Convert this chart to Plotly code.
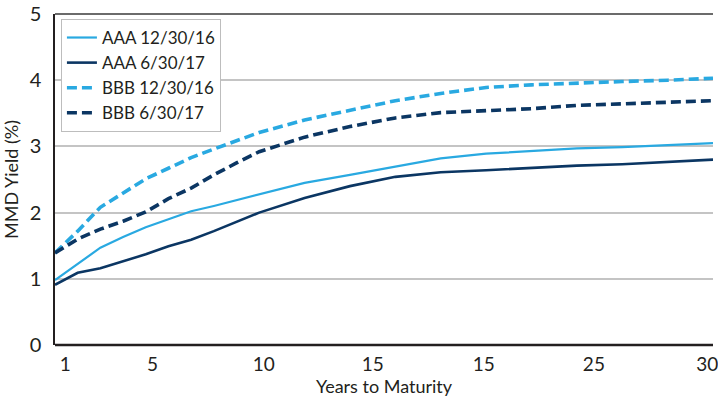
import plotly.graph_objects as go

# ---- data ----
years = [1, 2, 3, 4, 5, 6, 7, 8, 9, 10, 12, 14, 16, 18, 20, 22, 24, 26, 28, 30]
aaa_1216 = [0.98, 1.23, 1.47, 1.63, 1.78, 1.90, 2.02, 2.10, 2.19, 2.27, 2.45, 2.57, 2.70, 2.82, 2.89, 2.93, 2.97, 2.99, 3.02, 3.05]
aaa_0617 = [0.91, 1.09, 1.16, 1.26, 1.37, 1.49, 1.59, 1.72, 1.86, 2.00, 2.22, 2.40, 2.54, 2.61, 2.64, 2.68, 2.71, 2.73, 2.77, 2.80]
bbb_1216 = [1.39, 1.72, 2.08, 2.30, 2.51, 2.67, 2.83, 2.96, 3.09, 3.21, 3.40, 3.55, 3.69, 3.80, 3.89, 3.93, 3.96, 3.98, 4.00, 4.03]
bbb_0617 = [1.39, 1.60, 1.75, 1.87, 2.01, 2.21, 2.37, 2.57, 2.75, 2.92, 3.14, 3.30, 3.43, 3.51, 3.54, 3.57, 3.62, 3.64, 3.67, 3.69]
series_names = ["AAA 12/30/16", "AAA 6/30/17", "BBB 12/30/16", "BBB 6/30/17"]
x_tick_labels = ["1", "5", "10", "15", "15", "25", "30"]
y_tick_labels = ["0", "1", "2", "3", "4", "5"]

# ---- styling ----
LIGHT = "#29a9e1"
DARK = "#0b3663"
FONT = "Lato"

fig = go.Figure()
styles = [
    dict(color=LIGHT, width=2.2, dash="solid"),
    dict(color=DARK, width=2.6, dash="solid"),
    dict(color=LIGHT, width=3.6, dash="10px,5px"),
    dict(color=DARK, width=3.6, dash="10px,5px"),
]
for name, ys, st in zip(series_names, [aaa_1216, aaa_0617, bbb_1216, bbb_0617], styles):
    fig.add_trace(go.Scatter(x=years, y=ys, mode="lines", name=name, line=st))

tick_positions = [1.45, 5.3, 10.2, 15.0, 19.9, 24.75, 29.75]

fig.update_layout(
    width=718, height=400,
    margin=dict(l=55, r=0, t=14, b=55),
    paper_bgcolor="white", plot_bgcolor="white",
    font=dict(family=FONT, size=18, color="#231f20"),
    showlegend=True,
    legend=dict(
        x=0.009, y=0.985, xanchor="left", yanchor="top",
        bgcolor="white", bordercolor="#bdbdbd", borderwidth=1,
        font=dict(family=FONT, size=17, color="#231f20"),
        tracegroupgap=0, itemwidth=30,
    ),
    xaxis=dict(
        range=[1, 30], showgrid=False, zeroline=False,
        tickmode="array", tickvals=tick_positions, ticktext=x_tick_labels,
        ticks="outside", ticklen=2, tickcolor="rgba(0,0,0,0)",
        tickfont=dict(size=19), ticklabeloverflow="allow",
        title=dict(text="Years to Maturity", font=dict(size=18), standoff=6),
    ),
    yaxis=dict(
        range=[0, 5], showgrid=True, gridcolor="#c4c4c4", gridwidth=2,
        zeroline=False, showline=True, linecolor="#231f20", linewidth=1.5,
        tickmode="array", tickvals=[0, 1, 2, 3, 4, 5], ticktext=y_tick_labels,
        ticks="outside", ticklen=8, tickcolor="rgba(0,0,0,0)",
        tickfont=dict(size=20),
        title=dict(text="MMD Yield (%)", font=dict(size=18), standoff=10),
    ),
    shapes=[
        dict(type="line", xref="paper", yref="paper", x0=0, x1=1, y0=0, y1=0,
             line=dict(color="#231f20", width=2.5), layer="above"),
        dict(type="line", xref="paper", yref="paper", x0=0, x1=1, y0=1, y1=1,
             line=dict(color="#3a3a3a", width=1.5), layer="above"),
    ],
)

fig.write_html(
    "out.html",
    config={"displayModeBar": False},
    post_script="document.body.style.margin='0';document.body.style.overflow='hidden';",
)
